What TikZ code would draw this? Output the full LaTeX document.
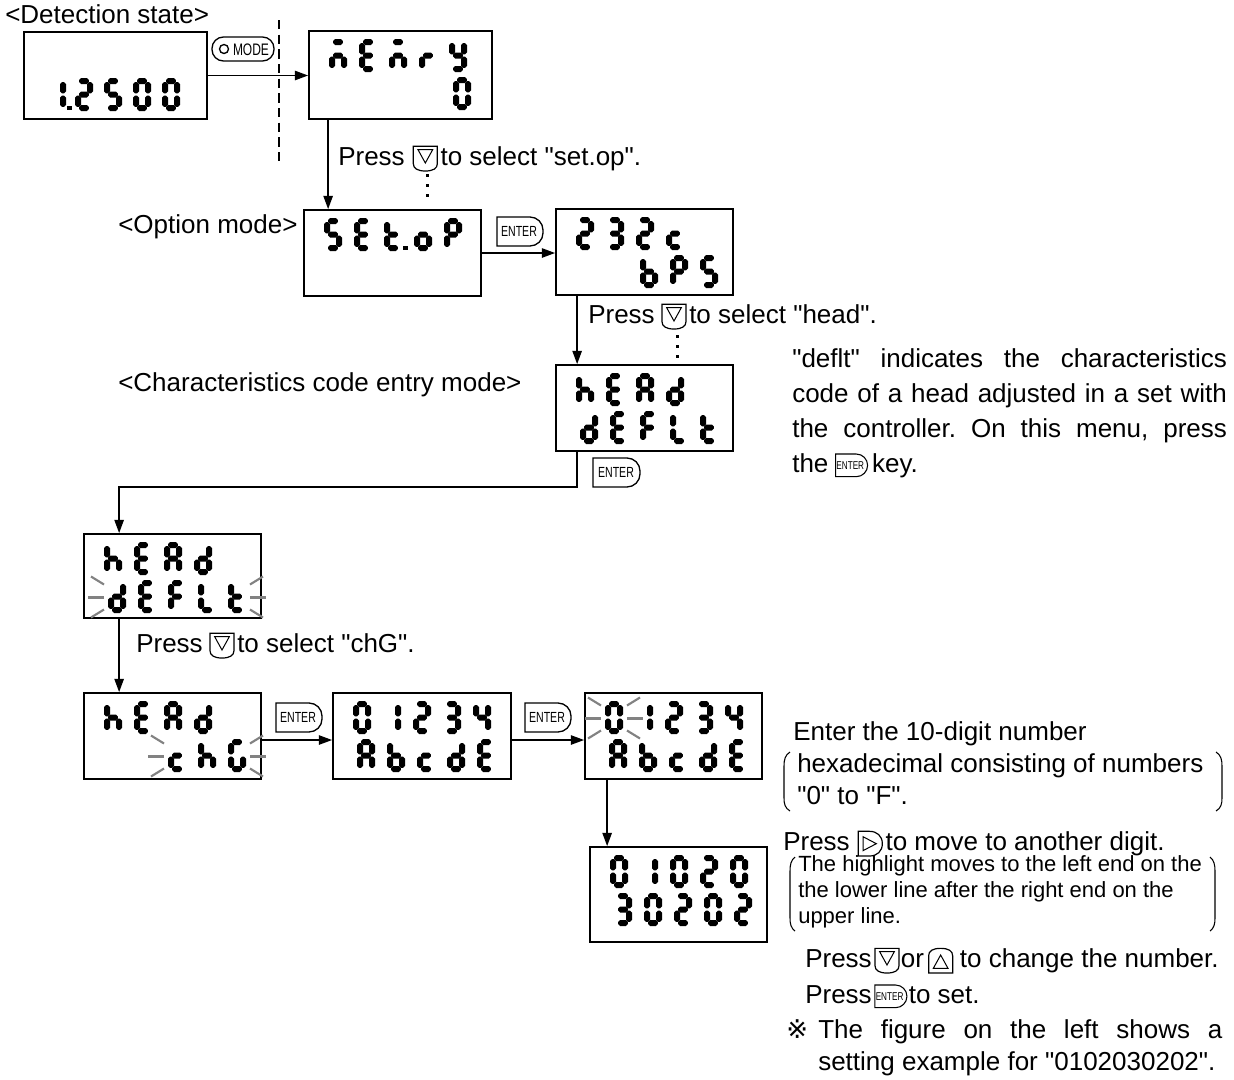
\documentclass[tikz,border=0pt]{standalone}
\usepackage{fontspec}
\setmainfont{Liberation Sans}[Ligatures=TeXOff]
\newfontfamily\keyfont{Liberation Sans}[FakeStretch=0.72]
\newfontfamily\djv{DejaVu Sans}
\usetikzlibrary{calc,fit,arrows.meta}
\definecolor{raygray}{RGB}{130,130,130}
\newcommand\mainsz{\fontsize{19.5}{23}\selectfont}
\newcommand\smallsz{\fontsize{16.5}{19}\selectfont}
\tikzset{
 frame/.style={draw, line width=1.3pt, inner sep=0pt},
 conn/.style={line width=1.3pt},
 arr/.style={conn, -{Triangle[length=10pt,width=7pt]}},
 keyline/.style={line width=1pt},
 keytxt/.style={anchor=center, inner sep=0pt, font=\keyfont\fontsize{11}{11}\selectfont},
 ray/.style={line width=1.6pt, draw=raygray},
 txt/.style={anchor=base west, inner sep=0pt, font=\mainsz},
 small/.style={anchor=base west, inner sep=0pt, font=\smallsz},
 par/.style={line width=0.8pt},
}
% seven segment pieces (half thickness 3, bevel 2)
\newcommand\hsegm[3]{\fill (#1,{#3-1}) -- ({#1+2},{#3-3}) -- ({#2-2},{#3-3}) -- (#2,{#3-1}) -- (#2,{#3+1}) -- ({#2-2},{#3+3}) -- ({#1+2},{#3+3}) -- (#1,{#3+1}) -- cycle;}
\newcommand\vsegm[3]{\fill ({#1-1},#2) -- ({#1+1},#2) -- ({#1+3},{#2+2}) -- ({#1+3},{#3-2}) -- ({#1+1},#3) -- ({#1-1},#3) -- ({#1-3},{#3-2}) -- ({#1-3},{#2+2}) -- cycle;}
\newcommand\dsga[2]{\hsegm{#1+4.2}{#1+13.8}{#2+3}}
\newcommand\dsgg[2]{\hsegm{#1+4.2}{#1+13.8}{#2+16.5}}
\newcommand\dsgd[2]{\hsegm{#1+4.2}{#1+13.8}{#2+30}}
\newcommand\dsgf[2]{\vsegm{#1+3}{#2+4.2}{#2+15.3}}
\newcommand\dsgb[2]{\vsegm{#1+15}{#2+4.2}{#2+15.3}}
\newcommand\dsge[2]{\vsegm{#1+3}{#2+17.7}{#2+28.8}}
\newcommand\dsgc[2]{\vsegm{#1+15}{#2+17.7}{#2+28.8}}
\newcommand\dsgp[2]{\fill ({#1+19},{#2+27.5}) rectangle ({#1+23.5},{#2+32});}
\newcommand\dg[3]{\edef\dglist{#3}\foreach \sg in \dglist {\csname dsg\sg\endcsname{#1}{#2}}}
\newcommand\rA[4]{\dg{#1+20+30*#3}{#2+8}{#4}}
\newcommand\rB[4]{\dg{#1+24+30*#3}{#2+46}{#4}}
\def\qZ{a,b,c,d,e,f}
\def\qI{b,c}
\def\qII{a,b,d,e,g}
\def\qIII{a,b,c,d,g}
\def\qIV{b,c,f,g}
\def\qS{a,c,d,f,g}
\def\qE{a,d,e,f,g}
\def\qm{a,c,e,g}
\def\qr{e,g}
\def\qy{b,c,d,f,g}
\def\qt{d,e,f,g}
\def\qo{c,d,e,g}
\def\qP{a,b,e,f,g}
\def\qc{d,e,g}
\def\qb{c,d,e,f,g}
\def\qh{c,e,f,g}
\def\qA{a,b,c,e,f,g}
\def\qd{b,c,d,e,g}
\def\qF{a,e,f,g}
\def\qL{d,e,f}
\def\qG{a,c,d,e,f}
% blinking rays
\newcommand\rays[3]{%
 \draw[ray] ({#1-4},{#3-12}) -- ({#1-17},{#3-20});
 \draw[ray] ({#1-4},{#3+1}) -- ({#1-20},{#3+1});
 \draw[ray] ({#1-4},{#3+13}) -- ({#1-17},{#3+21});
 \draw[ray] ({#2+4},{#3-12}) -- ({#2+17},{#3-20});
 \draw[ray] ({#2+4},{#3+1}) -- ({#2+20},{#3+1});
 \draw[ray] ({#2+4},{#3+13}) -- ({#2+17},{#3+21});}
% keys
\newcommand\entershape[5]{\draw[keyline] (#1,#2) -- ({#1+#3-#5},#2) .. controls ({#1+#3-0.45*#5},#2) and ({#1+#3},{#2+0.45*#5}) .. ({#1+#3},{#2+#5}) -- ({#1+#3},{#2+#4-#5}) .. controls ({#1+#3},{#2+#4-0.45*#5}) and ({#1+#3-0.45*#5},{#2+#4}) .. ({#1+#3-#5},{#2+#4}) -- (#1,{#2+#4}) -- cycle;}
\newcommand\kdown{\tikz[x=1pt,y=1pt,baseline=0pt]{\draw[line width=0.9pt] (0,14) -- (0,1) .. controls (0,-2.5) and (3,-4.5) .. (9,-4.5) .. controls (15,-4.5) and (18,-2.5) .. (18,1) -- (18,14) -- cycle; \draw[line width=0.75pt] (3.5,11.5) -- (14.5,11.5) -- (9,1.5) -- cycle;}}
\newcommand\kup{\tikz[x=1pt,y=1pt,baseline=0pt]{\draw[line width=0.9pt] (0,-4.5) -- (0,8.5) .. controls (0,12) and (3,14) .. (9,14) .. controls (15,14) and (18,12) .. (18,8.5) -- (18,-4.5) -- cycle; \draw[line width=0.75pt] (3.5,-1) -- (14.5,-1) -- (9,9) -- cycle;}}
\newcommand\kright{\tikz[x=1pt,y=1pt,baseline=0pt]{\draw[line width=0.9pt] (0,-4.5) -- (0,14) -- (8.5,14) .. controls (14,14) and (18,10.5) .. (18,4.75) .. controls (18,-1) and (14,-4.5) .. (8.5,-4.5) -- cycle; \draw[line width=0.75pt] (3.5,10) -- (3.5,-0.5) -- (13.5,4.75) -- cycle;}}
\newcommand\ienter{\tikz[x=1pt,y=1pt,baseline=0pt,keyline/.style={line width=0.8pt}]{\entershape{0}{-3.5}{24}{17}{8.5} \node[anchor=center,inner sep=0pt,font=\keyfont\fontsize{8.5}{8.5}\selectfont] at (11,5) {ENTER};}}
\begin{document}
\frenchspacing
\begin{tikzpicture}[x=0.75pt,y=-0.75pt]
\useasboundingbox (0,0) rectangle (1234,1079);
% display boxes
\node[frame, fit={(24,32) (207,119)}] (det) {};
\node[frame, fit={(309,31) (492,119)}] (mem) {};
\node[frame, fit={(304,210) (481,296)}] (setop) {};
\node[frame, fit={(556,209) (733,295)}] (rs) {};
\node[frame, fit={(556,365) (733,451)}] (hdef) {};
\node[frame, fit={(84,534) (261,618)}] (hblink) {};
\node[frame, fit={(84,693) (261,779)}] (hchg) {};
\node[frame, fit={(333,693) (511,779)}] (num) {};
\node[frame, fit={(585,693) (762,779)}] (numb) {};
\node[frame, fit={(590,847) (767,942)}] (res) {};
% digits
\dg{48}{78}{\qI,p} \dg{75}{78}{\qII} \dg{104}{78}{\qS} \dg{133}{78}{\qZ} \dg{162}{78}{\qZ}
\rA{309}{31}{0}{\qm} \rA{309}{31}{1}{\qE} \rA{309}{31}{2}{\qm} \rA{309}{31}{3}{\qr} \rA{309}{31}{4}{\qy} \rB{309}{31}{4}{\qZ}
\rA{304}{210}{0}{\qS} \rA{304}{210}{1}{\qE} \rA{304}{210}{2}{\qt,p} \rA{304}{210}{3}{\qo} \rA{304}{210}{4}{\qP}
\rA{556}{209}{0}{\qII} \rA{556}{209}{1}{\qIII} \rA{556}{209}{2}{\qII} \rA{556}{209}{3}{\qc}
\rB{556}{209}{2}{\qb} \rB{556}{209}{3}{\qP} \rB{556}{209}{4}{\qS}
\rA{556}{365}{0}{\qh} \rA{556}{365}{1}{\qE} \rA{556}{365}{2}{\qA} \rA{556}{365}{3}{\qd}
\rB{556}{365}{0}{\qd} \rB{556}{365}{1}{\qE} \rB{556}{365}{2}{\qF} \rB{556}{365}{3}{\qL} \rB{556}{365}{4}{\qt}
\rA{84}{534}{0}{\qh} \rA{84}{534}{1}{\qE} \rA{84}{534}{2}{\qA} \rA{84}{534}{3}{\qd}
\rB{84}{534}{0}{\qd} \rB{84}{534}{1}{\qE} \rB{84}{534}{2}{\qF} \rB{84}{534}{3}{\qL} \rB{84}{534}{4}{\qt}
\rA{84}{693}{0}{\qh} \rA{84}{693}{1}{\qE} \rA{84}{693}{2}{\qA} \rA{84}{693}{3}{\qd}
\rB{84}{693}{2}{\qc} \rB{84}{693}{3}{\qh} \rB{84}{693}{4}{\qG}
\rA{333}{693}{0}{\qZ} \rA{333}{693}{1}{\qI} \rA{333}{693}{2}{\qII} \rA{333}{693}{3}{\qIII} \rA{333}{693}{4}{\qIV}
\rB{333}{693}{0}{\qA} \rB{333}{693}{1}{\qb} \rB{333}{693}{2}{\qc} \rB{333}{693}{3}{\qd} \rB{333}{693}{4}{\qE}
\rA{585}{693}{0}{\qZ} \rA{585}{693}{1}{\qI} \rA{585}{693}{2}{\qII} \rA{585}{693}{3}{\qIII} \rA{585}{693}{4}{\qIV}
\rB{585}{693}{0}{\qA} \rB{585}{693}{1}{\qb} \rB{585}{693}{2}{\qc} \rB{585}{693}{3}{\qd} \rB{585}{693}{4}{\qE}
\rA{590}{847}{0}{\qZ} \rA{590}{847}{1}{\qI} \rA{590}{847}{2}{\qZ} \rA{590}{847}{3}{\qII} \rA{590}{847}{4}{\qZ}
\rB{590}{847}{0}{\qIII} \rB{590}{847}{1}{\qZ} \rB{590}{847}{2}{\qII} \rB{590}{847}{3}{\qZ} \rB{590}{847}{4}{\qII}
% blinking
\rays{108}{246}{596.5}
\rays{168}{246}{755.5}
\rays{605}{623}{717.5}
% connectors
\draw[arr] (det.east) -- (det.east -| mem.west);
\draw[line width=1pt, dash pattern=on 7pt off 4pt] (279,20) -- (279,165);
\coordinate (c1) at ($(mem.south west)+(20,0)$);
\draw[arr] (c1) -- (c1 |- setop.north);
\draw[arr] (setop.east) -- (setop.east -| rs.west);
\coordinate (c2) at ($(rs.south west)+(22,0)$);
\draw[arr] (c2) -- (c2 |- hdef.north);
\coordinate (c3) at ($(hdef.south west)+(22,0)$);
\coordinate (c4) at ($(hblink.north west)+(36,-46)$);
\draw[arr] (c3) |- (c4) -- (c4 |- hblink.north);
\coordinate (c5) at ($(hblink.south west)+(36,0)$);
\draw[arr] (c5) -- (c5 |- hchg.north);
\coordinate (c6) at ($(hchg.east)+(0,4)$);
\draw[arr] (c6) -- (c6 -| num.west);
\coordinate (c7) at ($(num.east)+(0,4)$);
\draw[arr] (c7) -- (c7 -| numb.west);
\coordinate (c8) at ($(numb.south west)+(23,0)$);
\draw[arr] (c8) -- (c8 |- res.north);
% dots
\foreach \yy in {174,184,194} {\fill (425.5,\yy) rectangle ++(3,3);}
\foreach \yy in {335,345,355} {\fill (675.5,\yy) rectangle ++(3,3);}
% keys
\draw[keyline, rounded corners=8.6pt] (212,37) rectangle (274,61);
\draw[keyline] (224,49) circle[radius=4.5];
\node[keytxt, font=\keyfont\fontsize{12.5}{12.5}\selectfont] (kmode) at (251,49.5) {MODE};
\entershape{497}{217}{46}{29}{13} \node[keytxt] (k1) at (519,231.5) {ENTER};
\entershape{593}{458}{47}{29}{13} \node[keytxt] (k2) at (616,472.5) {ENTER};
\entershape{276}{703}{46}{29}{13} \node[keytxt] (k3) at (298,717.5) {ENTER};
\entershape{525}{703}{46}{29}{13} \node[keytxt] (k4) at (547,717.5) {ENTER};
% texts
\node[txt] (t1) at (5,23) {<Detection state>};
\node[txt] (t2) at (338,165) {Press\hspace{6pt}\kdown\hspace{2pt}to select "set.op".};
\node[txt] (t3) at (118,233) {<Option mode>};
\node[txt] (t4) at (588,323) {Press\hspace{5pt}\kdown\hspace{2pt}to select "head".};
\node[txt] (t5) at (118,391) {<Characteristics code entry mode>};
\node[txt] (t6) at (136,652) {Press\hspace{5pt}\kdown\hspace{2pt}to select "chG".};
\node[txt] (t7) at (792,367) {\makebox[326pt][s]{"deflt" indicates the characteristics}};
\node[txt] (t8) at (792,402) {\makebox[326pt][s]{code of a head adjusted in a set with}};
\node[txt] (t9) at (792,437) {\makebox[326pt][s]{the controller. On this menu, press}};
\node[txt] (t10) at (792,472) {the\hspace{5pt}\ienter\hspace{3pt}key.};
\node[txt] (t11) at (793,740) {Enter the 10-digit number};
\node[txt] (t12) at (797,772) {hexadecimal consisting of numbers};
\node[txt] (t13) at (797,804) {"0" to "F".};
\draw[par] (790,752) .. controls (785,755) and (784,760) .. (784,766) -- (784,798) .. controls (784,804) and (785,808) .. (790,811);
\draw[par] (1216,752) .. controls (1221,755) and (1222,760) .. (1222,766) -- (1222,798) .. controls (1222,804) and (1221,808) .. (1216,811);
\node[txt] (t14) at (783,850) {Press\hspace{6pt}\kright\hspace{2pt}to move to another digit.};
\node[small] (t15) at (798,871) {The highlight moves to the left end on the};
\node[small] (t16) at (798,897) {the lower line after the right end on the};
\node[small] (t17) at (798,923) {upper line.};
\draw[par] (795,857) .. controls (791,860) and (790,865) .. (790,871) -- (790,918) .. controls (790,924) and (791,928) .. (795,931);
\draw[par] (1210,857) .. controls (1214,860) and (1215,865) .. (1215,871) -- (1215,918) .. controls (1215,924) and (1214,928) .. (1210,931);
\node[txt] (t18) at (805,967) {Press\hspace{2pt}\kdown\hspace{1pt}or\hspace{3pt}\kup\hspace{5pt}to change the number.};
\node[txt] (t19) at (805,1003) {Press\hspace{2pt}\ienter\hspace{1pt}to set.};
\node[txt] (t20) at (786,1038) {\djv ※};
\node[txt] (t21) at (818,1038) {\makebox[303pt][s]{The figure on the left shows a}};
\node[txt] (t22) at (818,1070) {setting example for "0102030202".};
\end{tikzpicture}
\end{document}
